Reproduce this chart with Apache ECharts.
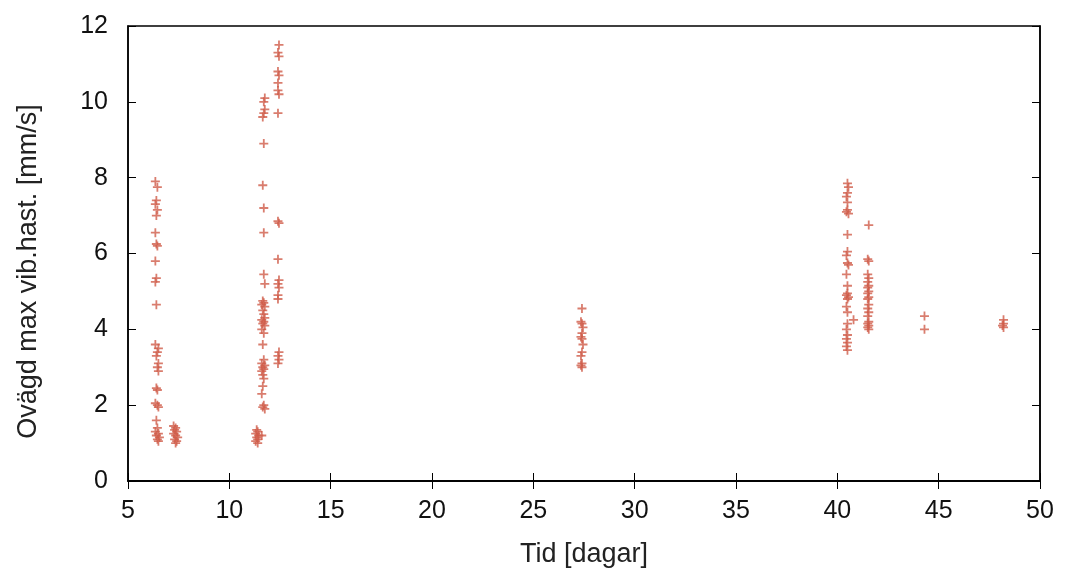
<!DOCTYPE html>
<html>
<head>
<meta charset="utf-8">
<script src="https://cdn.jsdelivr.net/npm/echarts@6/dist/echarts.min.js"></script>
<style>
  html, body { margin: 0; padding: 0; background: #fff; }
  #vibChart { width: 1065px; height: 573px; }
</style>
</head>
<body>
<div id="vibChart"></div>
<script>
  // mätpunkter per grupp: dagar (x) och vibrationshastighet (y)
  const dayA = [6.35, 6.45, 6.4, 6.35, 6.45, 6.4, 6.35, 6.4, 6.45, 6.35, 6.4, 6.35, 6.4, 6.35, 6.5, 6.45, 6.4, 6.5, 6.45, 6.5, 6.4, 6.45, 6.35, 6.45, 6.5, 6.4, 6.45, 6.35, 6.5, 6.4, 6.55, 6.45, 6.5]
  const velA = [7.9, 7.75, 7.4, 7.3, 7.15, 7.0, 6.55, 6.25, 6.2, 5.8, 5.35, 5.25, 4.65, 3.6, 3.5, 3.4, 3.3, 3.1, 3.0, 2.9, 2.45, 2.4, 2.05, 2.0, 1.95, 1.6, 1.4, 1.3, 1.25, 1.2, 1.15, 1.1, 1.05]
  const dayB = [7.25, 7.35, 7.3, 7.4, 7.25, 7.35, 7.45, 7.3, 7.4, 7.35]
  const velB = [1.45, 1.4, 1.35, 1.3, 1.25, 1.2, 1.15, 1.1, 1.05, 1.0]
  const dayC = [11.35, 11.4, 11.3, 11.45, 11.35, 11.4, 11.3, 11.4, 11.6]
  const velC = [1.35, 1.3, 1.25, 1.2, 1.15, 1.1, 1.05, 1.0, 1.2]
  const dayD = [11.75, 11.7, 11.75, 11.7, 11.65, 11.7, 11.65, 11.7, 11.7, 11.7, 11.75, 11.65, 11.7, 11.6, 11.75, 11.65, 11.7, 11.75, 11.6, 11.7, 11.65, 11.75, 11.6, 11.7, 11.65, 11.7, 11.6, 11.75, 11.65, 11.7, 11.6, 11.65, 11.7, 11.65, 11.6, 11.7, 11.65, 11.75]
  const velD = [10.1, 10.0, 9.8, 9.7, 9.6, 8.9, 7.8, 7.2, 6.55, 5.45, 5.2, 4.75, 4.7, 4.65, 4.6, 4.5, 4.4, 4.3, 4.25, 4.2, 4.15, 4.1, 4.0, 3.9, 3.6, 3.2, 3.1, 3.05, 3.0, 2.95, 2.9, 2.8, 2.7, 2.5, 2.3, 2.0, 1.95, 1.9]
  const dayE = [12.45, 12.4, 12.45, 12.4, 12.45, 12.4, 12.4, 12.45, 12.4, 12.4, 12.45, 12.4, 12.45, 12.4, 12.45, 12.4, 12.4, 12.45, 12.4, 12.45, 12.4]
  const velE = [11.5, 11.3, 11.2, 10.8, 10.7, 10.5, 10.3, 10.2, 9.7, 6.85, 6.8, 5.85, 5.3, 5.2, 5.1, 4.9, 4.8, 3.4, 3.3, 3.2, 3.1]
  const dayF = [27.4, 27.35, 27.4, 27.45, 27.4, 27.35, 27.4, 27.45, 27.4, 27.35, 27.4, 27.35, 27.4]
  const velF = [4.55, 4.2, 4.15, 4.05, 3.9, 3.8, 3.75, 3.6, 3.4, 3.3, 3.1, 3.05, 3.0]
  const dayG = [40.5, 40.55, 40.5, 40.45, 40.5, 40.5, 40.45, 40.55, 40.5, 40.5, 40.45, 40.5, 40.55, 40.45, 40.5, 40.5, 40.45, 40.55, 40.5, 40.45, 40.5, 40.8, 40.5, 40.45, 40.5, 40.45, 40.5, 40.45, 40.5]
  const velG = [7.85, 7.75, 7.6, 7.5, 7.35, 7.15, 7.1, 7.05, 6.5, 6.05, 5.95, 5.75, 5.7, 5.45, 5.15, 4.95, 4.9, 4.85, 4.8, 4.6, 4.45, 4.25, 4.15, 4.0, 3.85, 3.75, 3.65, 3.55, 3.45]
  const dayH = [41.55, 41.5, 41.55, 41.5, 41.55, 41.5, 41.55, 41.5, 41.55, 41.5, 41.55, 41.5, 41.55, 41.5, 41.55, 41.5, 41.55, 41.5, 41.55, 41.5, 41.55]
  const velH = [6.75, 5.85, 5.8, 5.45, 5.35, 5.25, 5.15, 5.1, 5.0, 4.95, 4.85, 4.8, 4.65, 4.55, 4.45, 4.35, 4.2, 4.15, 4.1, 4.05, 4.0]
  const dayI = [44.3, 44.3]
  const velI = [4.35, 4.0]
  const dayJ = [48.2, 48.2, 48.15, 48.2]
  const velJ = [4.25, 4.15, 4.1, 4.05]

  const xTicks = [5, 10, 15, 20, 25, 30, 35, 40, 45, 50]
  const yTicks = [0, 2, 4, 6, 8, 10, 12]

  const groups = [[dayA, velA], [dayB, velB], [dayC, velC], [dayD, velD], [dayE, velE], [dayF, velF], [dayG, velG], [dayH, velH], [dayI, velI], [dayJ, velJ]]
  let points = []
  groups.forEach(function (g) {
    for (let i = 0; i < g[0].length; i++) {
      points.push([g[0][i], g[1][i]])
    }
  })

  const font = 'Liberation Sans, Arial, sans-serif'
  const chart = echarts.init(document.getElementById('vibChart'))
  chart.setOption({
    animation: false,
    grid: {
      left: 128,
      right: 25,
      top: 26,
      bottom: 92,
      show: true,
      borderColor: '#000',
      borderWidth: 1.5
    },
    xAxis: [{
      type: 'value',
      min: xTicks[0],
      max: xTicks[xTicks.length - 1],
      interval: 5,
      name: 'Tid [dagar]',
      nameLocation: 'middle',
      nameGap: 60,
      nameTextStyle: { fontFamily: font, fontSize: 27, color: '#222' },
      axisLine: { show: true, lineStyle: { color: '#000', width: 1.5 } },
      axisTick: { show: true, inside: true, length: 8, lineStyle: { color: '#000' } },
      axisLabel: { fontFamily: font, fontSize: 25, color: '#111', margin: 18 },
      splitLine: { show: false }
    }, {
      type: 'value',
      position: 'top',
      min: xTicks[0],
      max: xTicks[xTicks.length - 1],
      interval: 5,
      axisLine: { show: true, lineStyle: { color: '#000', width: 1.5 } },
      axisTick: { show: true, inside: true, length: 8, lineStyle: { color: '#000' } },
      axisLabel: { show: false },
      splitLine: { show: false }
    }],
    yAxis: [{
      type: 'value',
      min: yTicks[0],
      max: yTicks[yTicks.length - 1],
      interval: 2,
      name: 'Ovägd max vib.hast. [mm/s]',
      nameLocation: 'middle',
      nameGap: 86,
      nameTextStyle: { fontFamily: font, fontSize: 27, color: '#222', padding: [0, 36, 0, 0] },
      axisLine: { show: true, lineStyle: { color: '#000', width: 1.5 } },
      axisTick: { show: true, inside: true, length: 8, lineStyle: { color: '#000' } },
      axisLabel: { fontFamily: font, fontSize: 25, color: '#111', margin: 20 },
      splitLine: { show: false }
    }, {
      type: 'value',
      position: 'right',
      min: yTicks[0],
      max: yTicks[yTicks.length - 1],
      interval: 2,
      axisLine: { show: true, lineStyle: { color: '#000', width: 1.5 } },
      axisTick: { show: true, inside: true, length: 8, lineStyle: { color: '#000' } },
      axisLabel: { show: false },
      splitLine: { show: false }
    }],
    series: [{
      type: 'scatter',
      xAxisIndex: 0,
      yAxisIndex: 0,
      symbol: 'path://M4,0H6V4H10V6H6V10H4V6H0V4H4Z', // plustecken
      symbolSize: 9,
      itemStyle: {
        color: '#cf5c4a'
      },
      data: points
    }]
  })
</script>
</body>
</html>
